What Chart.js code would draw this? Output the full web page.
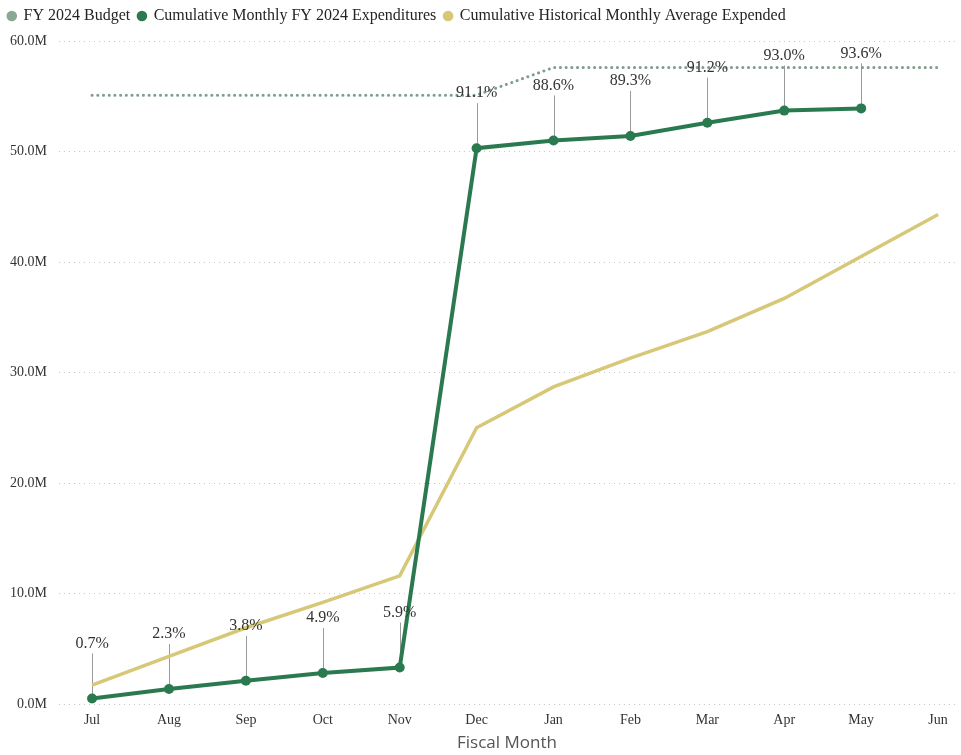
<!DOCTYPE html>
<html>
<head>
<meta charset="utf-8">
<script src="https://cdn.jsdelivr.net/npm/chart.js@4.4.1/dist/chart.umd.min.js"></script>
<style>
  html, body { margin: 0; padding: 0; background: #fff; }
  #wrap { width: 961px; height: 755px; position: relative; }
</style>
</head>
<body>
<div id="wrap"><canvas id="c" width="961" height="755"></canvas></div>
<script>
const months = ['Jul','Aug','Sep','Oct','Nov','Dec','Jan','Feb','Mar','Apr','May','Jun'];
const budget = [55.1, 55.1, 55.1, 55.1, 55.1, 55.1, 57.6, 57.6, 57.6, 57.6, 57.6, 57.6];
const expenditures = [0.5, 1.35, 2.1, 2.8, 3.3, 50.3, 51.0, 51.4, 52.6, 53.7, 53.9, null];
const historical = [1.7, 4.3, 6.9, 9.2, 11.6, 25.0, 28.7, 31.3, 33.7, 36.7, 40.5, 44.3];
const pctLabels = ['0.7%','2.3%','3.8%','4.9%','5.9%','91.1%','88.6%','89.3%','91.2%','93.0%','93.6%'];
const yTicks = [0, 10, 20, 30, 40, 50, 60];

const toXY = arr => arr.map((v, i) => ({ x: i, y: v }));

const serif = '"Liberation Serif", "Times New Roman", serif';

const legendHeight = {
  id: 'legendHeight',
  beforeInit(chart) {
    const orig = chart.legend.fit;
    chart.legend.fit = function () {
      orig.bind(chart.legend)();
      this.height = 41;
    };
  }
};

const pctPlugin = {
  id: 'pctPlugin',
  beforeDatasetsDraw(chart) {
    const meta = chart.getDatasetMeta(1);
    const ctx = chart.ctx;
    ctx.save();
    ctx.strokeStyle = '#9a9a9a';
    ctx.lineWidth = 1;
    meta.data.forEach((pt, i) => {
      if (expenditures[i] == null) return;
      ctx.beginPath();
      ctx.moveTo(Math.round(pt.x) + 0.5, pt.y);
      ctx.lineTo(Math.round(pt.x) + 0.5, pt.y - 45);
      ctx.stroke();
    });
    ctx.restore();
  },
  afterDatasetsDraw(chart) {
    const meta = chart.getDatasetMeta(1);
    const ctx = chart.ctx;
    ctx.save();
    ctx.fillStyle = '#333';
    ctx.font = '16px ' + serif;
    ctx.textAlign = 'center';
    ctx.textBaseline = 'middle';
    meta.data.forEach((pt, i) => {
      if (expenditures[i] == null) return;
      ctx.fillText(pctLabels[i], pt.x, pt.y - 55);
    });
    ctx.restore();
  }
};

new Chart(document.getElementById('c'), {
  type: 'line',
  data: {
    datasets: [
      {
        label: 'FY 2024 Budget',
        data: toXY(budget),
        borderColor: '#7f9e8b',
        backgroundColor: '#8aa896',
        borderWidth: 3,
        borderDash: [0.1, 5.6],
        borderCapStyle: 'round',
        pointRadius: 0,
        tension: 0
      },
      {
        label: 'Cumulative Monthly FY 2024 Expenditures',
        data: toXY(expenditures),
        borderColor: '#2b7a4f',
        backgroundColor: '#2b7a4f',
        borderWidth: 4,
        pointRadius: 5,
        pointBackgroundColor: '#2b7a4f',
        pointBorderWidth: 0,
        tension: 0,
        spanGaps: false
      },
      {
        label: 'Cumulative Historical Monthly Average Expended',
        data: toXY(historical),
        borderColor: '#d6c877',
        backgroundColor: '#d6c877',
        borderWidth: 3.5,
        pointRadius: 0,
        tension: 0
      }
    ]
  },
  options: {
    responsive: false,
    animation: false,
    devicePixelRatio: 1,
    layout: { padding: { left: 0, right: 6, top: 0, bottom: 0 } },
    plugins: {
      tooltip: { enabled: false },
      legend: {
        position: 'top',
        align: 'start',
        labels: {
          usePointStyle: true,
          pointStyle: 'circle',
          boxWidth: 7.5,
          boxHeight: 7.5,
          padding: 8,
          color: '#252423',
          font: { family: serif, size: 16 },
          generateLabels(chart) {
            const items = Chart.defaults.plugins.legend.labels.generateLabels(chart);
            items.forEach(it => { it.lineWidth = 0; it.strokeStyle = 'rgba(0,0,0,0)'; it.lineDash = []; });
            return items;
          }
        }
      }
    },
    scales: {
      x: {
        type: 'linear',
        min: -0.43,
        max: 11.22,
        afterBuildTicks(scale) {
          scale.ticks = months.map((_, i) => ({ value: i }));
        },
        afterFit(scale) { scale.height = 51; },
        ticks: {
          autoSkip: false,
          maxRotation: 0,
          padding: 0,
          color: '#333',
          font: { family: serif, size: 14 },
          callback: v => months[v]
        },
        grid: { display: false },
        border: { display: false },
        title: {
          display: true,
          text: 'Fiscal Month',
          color: '#555',
          padding: { top: 0, bottom: 2 },
          font: { family: '"Open Sans", "DejaVu Sans", sans-serif', size: 17 }
        }
      },
      y: {
        min: 0,
        max: 60,
        afterBuildTicks(scale) {
          scale.ticks = yTicks.map(v => ({ value: v }));
        },
        afterFit(scale) { scale.width = 59; },
        ticks: {
          padding: 12,
          color: '#333',
          font: { family: serif, size: 14 },
          callback: v => v.toFixed(1) + 'M'
        },
        grid: { color: '#c8c8c8', lineWidth: 1, drawTicks: false },
        border: { display: false, dash: [1, 4] }
      }
    }
  },
  plugins: [legendHeight, pctPlugin]
});
</script>
</body>
</html>
